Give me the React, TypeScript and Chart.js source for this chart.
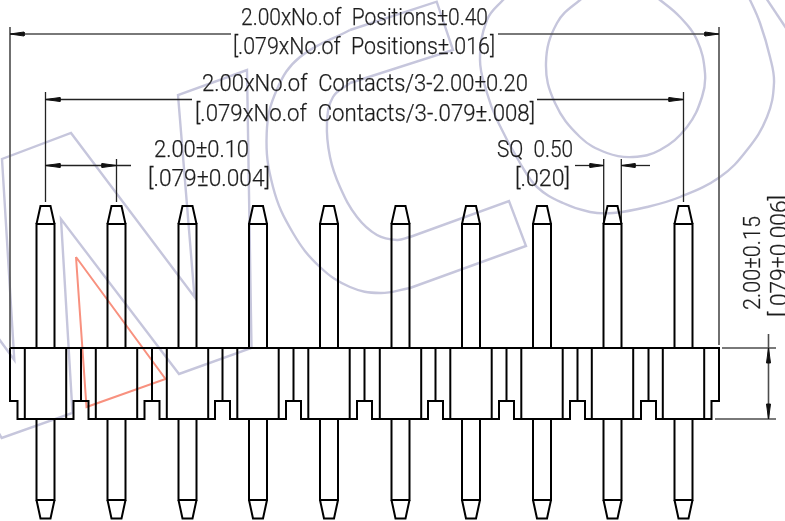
import React, { useEffect, useRef } from "react";
import { Chart, registerables } from "chart.js";

Chart.register(...registerables);

type P = [number, number];

const pinCenters = [45.5, 116.5, 187.5, 258, 329, 400.5, 471, 542, 612.5, 683.5];
const notchCenters = [81, 152, 222.5, 293.5, 364.5, 435.5, 506.5, 577.5, 648.5];

const bodyTop = 348;
const bodyBottom = 419;
const notchTop = 401;
const pinShoulderTop = 224;
const pinTipTop = 206;
const pinShoulderBottom = 500;
const pinTipBottom = 518.5;

const watermarkN: P[] = [[-3, 430], [1.7, 438], [72.5, 413], [61, 219], [179, 374], [251.5, 348], [247, 70], [178, 95], [194.5, 297], [71, 133], [2, 159], [14.3, 360], [-1, 339]];
const watermarkCOuter: P[] = [[350, 30], [300, 57], [276.7, 90], [266.7, 133], [273, 187], [293, 233], [320, 267], [350, 287], [380, 293], [410, 288]];
const watermarkCInner: P[] = [[410, 237], [397, 240], [377, 235], [357, 217], [340, 187], [330, 157], [327, 123], [333, 97], [350, 83]];
const watermarkCLines: P[] = [[350, 83], [453, 50], [436.7, 1.7], [350, 30]];
const watermarkCEnd: P[] = [[410, 288], [526, 246], [509, 201], [410, 237]];
const watermarkInnerRing: P[] = [[620, -30], [580, 0], [557, 23], [546, 63], [555, 103], [580, 137], [607, 153], [633, 157], [660, 150], [687, 127], [702, 97], [705, 73], [697, 40], [680, 17], [660, 0], [620, -30]];
const watermarkOuterRing: P[] = [[540, -40], [503, 0], [487, 20], [480, 60], [487, 93], [497, 120], [520, 163], [537, 187], [563, 203], [590, 212], [613, 213], [647, 207], [680, 197], [720, 177], [747, 150], [767, 117], [774, 83], [770, 57], [760, 23], [750, 0], [730, -40]];
const watermarkCorner: P[] = [[766, -2], [786, 28]];
const redTriangle: P[] = [[76, 257], [165.5, 379], [86.5, 407], [76, 257]];

const dimLines: P[][] = [
  [[10, 27], [10, 348]],
  [[719, 27], [719, 345]],
  [[10, 34], [231, 34]],
  [[498, 34], [719, 34]],
  [[722, 348], [776, 348]],
  [[715, 419], [776, 419]],
  [[768.5, 334], [768.5, 419]],
];
const thinDimLines: P[][] = [
  [[45.5, 92], [45.5, 202]],
  [[683.5, 92], [683.5, 202]],
  [[45.5, 99.5], [192, 99.5]],
  [[537, 99.5], [683.5, 99.5]],
  [[116.5, 159], [116.5, 202]],
  [[45.5, 165.5], [131, 165.5]],
  [[603.7, 159], [603.7, 224]],
  [[621.3, 159], [621.3, 224]],
  [[575, 165.5], [603.7, 165.5]],
  [[621.3, 165.5], [650, 165.5]],
];
const arrows: P[][] = [
  [[10, 34], [24, 32], [24, 36], [10, 34]],
  [[719, 34], [705, 32], [705, 36], [719, 34]],
  [[45.5, 99.5], [60, 97.5], [60, 101.5], [45.5, 99.5]],
  [[683.5, 99.5], [669, 97.5], [669, 101.5], [683.5, 99.5]],
  [[45.5, 165.5], [60, 163.5], [60, 167.5], [45.5, 165.5]],
  [[116.5, 165.5], [102, 163.5], [102, 167.5], [116.5, 165.5]],
  [[603.7, 165.5], [590, 163.5], [590, 167.5], [603.7, 165.5]],
  [[621.3, 165.5], [635, 163.5], [635, 167.5], [621.3, 165.5]],
  [[768.5, 348], [766.5, 363], [770.5, 363], [768.5, 348]],
  [[768.5, 419], [766.5, 404], [770.5, 404], [768.5, 419]],
];

// text, left, right, baseline
const labels: [string, number, number, number][] = [
  ["2.00xNo.of  Positions±0.40", 241, 488, 25],
  ["[.079xNo.of  Positions±.016]", 233, 495, 54],
  ["2.00xNo.of  Contacts/3-2.00±0.20", 202, 528, 91],
  ["[.079xNo.of  Contacts/3-.079±.008]", 195, 535, 120.5],
  ["2.00±0.10", 154, 249, 157],
  ["[.079±0.004]", 148, 270, 186],
  ["SQ  0.50", 497, 573, 157],
  ["[.020]", 515, 570, 186],
];
// text, baseline x, bottom y, top y
const verticalLabels: [string, number, number, number][] = [
  ["2.00±0.15", 760, 310, 216],
  ["[.079±0.006]", 787, 317, 195],
];

const toPts = (l: P[]) => l.map(([x, y]) => ({ x, y }));

const drawingLines = (): P[][] => {
  const out: P[][] = [];
  const outline: P[] = [[10, bodyTop], [10, notchTop], [17.5, notchTop], [17.5, bodyBottom]];
  notchCenters.forEach((n) => {
    outline.push([n - 7.5, bodyBottom], [n - 7.5, notchTop], [n + 7.5, notchTop], [n + 7.5, bodyBottom]);
    out.push([[n, bodyTop], [n, notchTop]]);
  });
  outline.push([711.5, bodyBottom], [711.5, notchTop], [719, notchTop], [719, bodyTop], [10, bodyTop]);
  out.push(outline);
  pinCenters.forEach((c) => {
    const l = c - 9, r = c + 9;
    out.push([[l, bodyTop], [l, pinShoulderTop], [r, pinShoulderTop], [r, bodyTop]]);
    out.push([[l, pinShoulderTop], [c - 5, pinTipTop], [c + 5, pinTipTop], [r, pinShoulderTop]]);
    out.push([[l, bodyBottom], [l, pinShoulderBottom], [r, pinShoulderBottom], [r, bodyBottom]]);
    out.push([[l, pinShoulderBottom], [c - 5, pinTipBottom], [c + 5, pinTipBottom], [r, pinShoulderBottom]]);
    out.push([[c - 20.7, bodyTop], [c - 20.7, bodyBottom], [c + 20.7, bodyBottom], [c + 20.7, bodyTop]]);
  });
  return out;
};

const line = (l: P[], color: string, width: number, tension = 0) => ({
  data: toPts(l),
  showLine: true,
  borderColor: color,
  borderWidth: width,
  tension,
  capBezierPoints: false,
  pointRadius: 0,
  fill: false,
  borderJoinStyle: "miter" as const,
});

const textPlugin = {
  id: "drawingText",
  afterDatasetsDraw(chart: any) {
    const { ctx, scales } = chart;
    const fx = (v: number) => scales.x.getPixelForValue(v);
    const fy = (v: number) => scales.y.getPixelForValue(v);
    ctx.save();
    ctx.fillStyle = "#1c1c1c";
    ctx.strokeStyle = "#1c1c1c";
    ctx.lineWidth = 0.25;
    ctx.font = "300 24px Roboto";
    ctx.textBaseline = "alphabetic";
    ctx.textAlign = "left";
    labels.forEach(([t, a, b, base]) => {
      const w = ctx.measureText(t).width;
      ctx.save();
      ctx.translate(fx(a), fy(base));
      ctx.scale((fx(b) - fx(a)) / w, 1);
      ctx.fillText(t, 0, 0);
      ctx.strokeText(t, 0, 0);
      ctx.restore();
    });
    verticalLabels.forEach(([t, base, bottom, top]) => {
      const w = ctx.measureText(t).width;
      ctx.save();
      ctx.translate(fx(base), fy(bottom));
      ctx.rotate(-Math.PI / 2);
      ctx.scale((fy(bottom) - fy(top)) / w, 1);
      ctx.fillText(t, 0, 0);
      ctx.strokeText(t, 0, 0);
      ctx.restore();
    });
    ctx.restore();
  },
};

export default function App() {
  const ref = useRef<HTMLCanvasElement>(null);
  useEffect(() => {
    const lav = "#c6c6dc";
    const datasets: any[] = [
      ...drawingLines().map((l) => line(l, "#000000", 2)),
      ...arrows.map((a) => ({
        ...line(a, "#111111", 1),
        fill: "shape",
        backgroundColor: "#111111",
      })),
      ...dimLines.map((l) => line(l, "#4d4d4d", 1.6)),
      ...thinDimLines.map((l) => line(l, "#222222", 1.3)),
      line(redTriangle, "#f8917f", 2),
      line(watermarkN, lav, 2.4),
      line(watermarkCLines, lav, 2.4),
      line(watermarkCEnd, lav, 2.4),
      line(watermarkCOuter, lav, 2.4, 0.4),
      line(watermarkCInner, lav, 2.4, 0.4),
      line(watermarkInnerRing, lav, 2.4, 0.4),
      line(watermarkOuterRing, lav, 2.4, 0.4),
      line(watermarkCorner, lav, 2.4),
    ];
    const chart = new Chart(ref.current!, {
      type: "scatter",
      data: { datasets },
      options: {
        animation: false,
        responsive: false,
        devicePixelRatio: 1,
        layout: { padding: 0 },
        elements: { line: { capBezierPoints: false } },
        plugins: { legend: { display: false }, tooltip: { enabled: false } },
        scales: {
          x: { type: "linear", min: 0, max: 785, display: false },
          y: { type: "linear", min: 0, max: 521, reverse: true, display: false },
        },
      },
      plugins: [textPlugin],
    } as any);
    return () => chart.destroy();
  }, []);
  return (
    <div style={{ position: "fixed", left: 0, top: 0, width: 785, height: 521, background: "#fff", overflow: "hidden" }}>
      <canvas ref={ref} width={785} height={521} style={{ display: "block" }} />
    </div>
  );
}
